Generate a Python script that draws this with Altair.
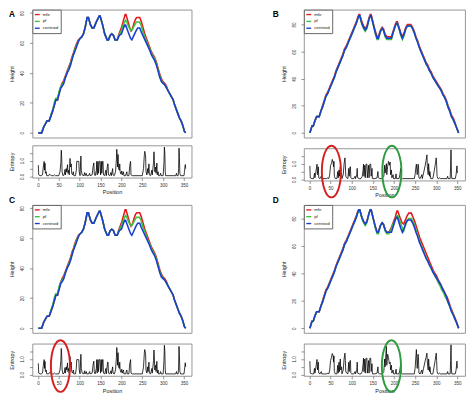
import altair as alt
import pandas as pd

FONT = "Liberation Sans"
RED, GREEN, BLUE = "#E41A1C", "#3CC43C", "#1A3FD0"
SERIES = ["mfe", "pf", "centroid"]

# ---------------- Height profiles (position, height) ----------------
# Panels A and C
A_centroid_pos = [1, 9, 14, 18, 22, 27, 31, 36, 40, 43, 47, 51, 55, 58, 62, 66, 70, 74, 78, 82, 85, 88, 92, 97, 101, 105, 109, 113, 118, 121, 126, 130, 134, 140, 147, 149, 155, 160, 166, 169, 173, 177, 181, 185, 190, 195, 200, 205, 208, 210, 214, 218, 222, 225, 230, 235, 239, 244, 248, 253, 258, 263, 268, 272, 276, 280, 284, 288, 292, 296, 300, 304, 308, 312, 316, 320, 324, 327, 331, 335, 339, 343, 347, 351, 354]
A_centroid_h = [0, 0, 4, 6, 8, 8, 11, 15, 19, 22, 22, 26, 30, 31, 33, 37, 40, 42, 45, 49, 52, 54, 57, 61, 63, 64, 66, 70, 77, 77, 72, 70, 70, 74, 78, 78, 72, 66, 62, 62, 65, 66, 65, 62, 62, 65, 66, 70, 72, 72, 69, 66, 63, 62, 65, 68, 70, 70, 67, 64, 61, 58, 55, 52, 50, 48, 45, 41, 37, 34, 33, 32, 30, 28, 26, 24, 22, 19, 16, 13, 10, 8, 5, 1, 0]

A_mfe_pos = [1, 9, 14, 18, 22, 27, 31, 36, 40, 43, 47, 51, 55, 58, 62, 66, 70, 74, 78, 82, 85, 88, 92, 97, 101, 105, 109, 113, 118, 121, 126, 130, 134, 140, 147, 149, 155, 160, 166, 169, 173, 177, 181, 185, 190, 193, 197, 201, 205, 209, 211, 215, 219, 223, 226, 230, 234, 237, 244, 248, 252, 256, 260, 264, 268, 272, 276, 280, 284, 288, 292, 296, 300, 304, 308, 312, 316, 320, 324, 327, 331, 335, 339, 343, 347, 351, 354]
A_mfe_h = [0, 0, 4, 6, 8, 8, 11, 15, 19, 22, 22, 27, 31, 33, 35, 38, 41, 44, 47, 51, 53, 56, 59, 62, 63, 64, 66, 70, 77, 77, 72, 70, 70, 74, 78, 78, 72, 66, 62, 62, 65, 66, 65, 62, 62, 65, 68, 71, 75, 79, 79, 75, 71, 68, 69, 73, 76, 77, 77, 74, 70, 66, 63, 60, 57, 54, 52, 50, 47, 43, 39, 36, 34, 33, 31, 28, 26, 24, 22, 19, 16, 13, 10, 8, 5, 1, 0]

A_pf_pos = [1, 9, 14, 18, 22, 27, 31, 36, 40, 43, 47, 51, 55, 58, 62, 66, 70, 74, 78, 82, 85, 88, 92, 97, 101, 105, 109, 113, 118, 121, 126, 130, 134, 140, 147, 149, 155, 160, 166, 169, 173, 177, 181, 185, 190, 194, 198, 202, 206, 210, 213, 217, 221, 224, 228, 232, 236, 243, 247, 251, 255, 259, 263, 268, 272, 276, 280, 284, 288, 292, 296, 300, 304, 308, 312, 316, 320, 324, 327, 331, 335, 339, 343, 347, 351, 354]
A_pf_h = [0, 0, 4, 6, 8, 8, 12, 16, 21, 23, 23, 28, 31, 32, 34, 37, 40, 43, 46, 50, 52, 55, 58, 61, 63, 64, 66, 70, 77, 77, 72, 70, 70, 74, 78, 78, 72, 66, 62, 62, 65, 66, 65, 62, 62, 65, 67, 70, 73, 75, 74, 71, 69, 68, 70, 72, 74, 74, 72, 68, 65, 62, 59, 56, 53, 51, 49, 46, 42, 38, 35, 33, 32, 30, 28, 26, 24, 22, 19, 16, 13, 10, 8, 5, 1, 0]

# Panels B and D
B_centroid_pos = [1, 3, 6, 9, 13, 17, 23, 27, 31, 35, 39, 43, 47, 51, 55, 59, 63, 67, 71, 75, 79, 83, 87, 91, 95, 99, 103, 107, 111, 115, 117, 119, 124, 128, 132, 136, 141, 144, 146, 151, 156, 160, 163, 168, 172, 175, 179, 183, 194, 199, 203, 206, 208, 212, 216, 220, 224, 228, 232, 240, 244, 248, 252, 256, 260, 264, 268, 272, 276, 280, 284, 288, 292, 296, 300, 304, 308, 312, 316, 320, 324, 328, 332, 336, 340, 344, 348, 353]
B_centroid_h = [0, 2, 5, 5, 9, 12, 12, 16, 19, 23, 27, 29, 32, 35, 38, 41, 45, 48, 51, 54, 57, 61, 63, 66, 69, 72, 75, 78, 81, 85, 86.5, 86.5, 81, 78, 76, 78, 84, 86.5, 86.5, 80, 74, 70, 70, 75, 77, 76, 72, 70, 70, 75, 79, 81, 81, 77, 73, 70, 73, 77, 79, 79, 77, 74, 70, 67, 63, 60, 57, 54, 51, 49, 46, 44, 41, 39, 37, 35, 33, 31, 28, 26, 23, 19, 16, 12, 10, 7, 4, 0]

B_mfe_pos = B_centroid_pos
B_mfe_h = [0, 2, 5, 5, 9, 12, 12, 16, 20, 24, 28, 30, 33, 36, 39, 42, 46, 49, 52, 55, 58, 62, 64, 67, 70, 73, 76, 79, 82, 86, 87.5, 87.5, 82, 79, 77, 79, 85, 87.5, 87.5, 81, 75, 71, 71, 76, 78, 77, 73, 71, 71, 76, 80, 82, 82, 78, 74, 71, 74, 78, 80, 80, 78, 75, 71, 68, 64, 61, 58, 55, 52, 50, 47, 45, 42, 40, 38, 36, 34, 32, 29, 27, 24, 20, 17, 13, 11, 8, 4, 0]

B_pf_pos = B_centroid_pos
B_pf_h = [0, 2, 5, 5, 9, 12, 12, 16, 19, 23, 27, 29, 32, 35, 38, 41, 45, 48, 51, 54, 57, 61, 63, 66, 69, 72, 75, 78, 81, 85, 86.5, 86.5, 80, 77, 75, 77, 84, 86.5, 86.5, 80, 73, 69, 69, 75, 77, 76, 71, 69, 69, 75, 79, 81, 81, 77, 72, 69, 72, 77, 79, 79, 77, 74, 70, 67, 63, 60, 57, 54, 51, 49, 46, 44, 41, 39, 37, 35, 33, 31, 28, 26, 23, 19, 16, 12, 10, 7, 4, 0]

D_mfe_pos = [1, 3, 6, 9, 13, 17, 23, 27, 31, 35, 39, 43, 47, 51, 55, 59, 63, 67, 71, 75, 79, 83, 87, 91, 95, 99, 103, 107, 111, 115, 117, 119, 124, 128, 132, 136, 141, 144, 146, 151, 156, 160, 163, 168, 172, 175, 179, 183, 188, 193, 198, 203, 207, 209, 214, 219, 223, 227, 231, 235, 241, 245, 249, 253, 257, 261, 265, 269, 273, 277, 281, 285, 289, 293, 297, 301, 305, 309, 313, 317, 321, 325, 329, 333, 337, 341, 345, 349, 353]
D_mfe_h = [0, 2, 5, 5, 9, 12, 12, 16, 20, 24, 28, 30, 33, 36, 39, 42, 46, 49, 52, 55, 58, 62, 64, 67, 70, 73, 76, 79, 82, 86, 86.5, 86.5, 81, 78, 76, 78, 84, 86.5, 86.5, 80, 74, 70, 70, 75, 77, 76, 72, 70, 70, 73, 77, 81, 85.5, 85.5, 81, 77, 76, 79, 82, 84, 84, 81, 78, 74, 70, 66, 63, 60, 57, 54, 51, 48, 45, 42, 40, 38, 35, 33, 30, 28, 25, 23, 20, 16, 13, 10, 7, 4, 0]

D_pf_pos = D_mfe_pos
D_pf_h = [0, 2, 5, 5, 9, 12, 12, 16, 19, 23, 27, 29, 32, 35, 38, 41, 45, 48, 51, 54, 57, 61, 63, 66, 69, 72, 75, 78, 81, 85, 86.5, 86.5, 80, 77, 75, 77, 84, 86.5, 86.5, 80, 73, 69, 69, 75, 77, 76, 71, 69, 69, 72, 76, 79, 82, 82, 78, 74, 71, 75, 78, 80, 80, 78, 75, 71, 67, 63, 60, 57, 54, 51, 48, 46, 43, 41, 38, 36, 33, 31, 28, 26, 23, 21, 18, 15, 12, 9, 6, 3, 0]

# ---------------- Entropy profiles (position, entropy) ----------------
A_ent_pos = [1, 2, 5, 8, 11, 13, 15, 16, 17, 18, 20, 21, 26, 28, 30, 33, 38, 40, 42, 50, 53, 55, 56, 57, 58, 60, 63, 65, 66, 68, 69, 71, 72, 74, 75, 77, 78, 80, 81, 83, 85, 86, 90, 92, 93, 98, 99, 101, 103, 104, 106, 110, 112, 113, 116, 117, 121, 124, 125, 130, 132, 134, 135, 137, 140, 141, 142, 144, 145, 147, 149, 150, 152, 153, 155, 156, 157, 160, 163, 164, 167, 168, 169, 172, 175, 176, 179, 180, 183, 186, 188, 189, 190, 191, 192, 193, 195, 196, 197, 199, 201, 202, 205, 206, 210, 213, 214, 218, 220, 222, 223, 226, 250, 253, 255, 256, 258, 259, 261, 263, 264, 266, 267, 270, 273, 274, 277, 278, 279, 280, 282, 283, 285, 286, 288, 289, 292, 294, 295, 300, 302, 303, 304, 305, 306, 330, 332, 333, 336, 337, 338, 339, 340, 342, 350, 351, 353, 354]
A_ent_v = [0.72, 0.1, 0.05, 0.05, 0.1, 0.6, 0.96, 0.4, 0.85, 0.2, 0.3, 0.05, 0.05, 0.15, 0.1, 0.05, 0.05, 0.1, 0.05, 0.05, 0.3, 0.9, 1.67, 1.2, 0.3, 0.05, 0.1, 0.45, 0.1, 0.5, 0.3, 0.75, 0.2, 0.4, 0.1, 1.15, 0.6, 0.8, 0.2, 0.1, 0.3, 0.05, 0.05, 0.4, 0.96, 0.96, 0.3, 0.05, 1.3, 0.4, 0.1, 0.05, 0.25, 0.05, 0.2, 0.05, 0.05, 0.2, 0.05, 0.1, 0.6, 0.86, 0.2, 0.05, 0.4, 0.96, 0.1, 0.96, 0.2, 0.96, 0.96, 0.1, 0.96, 0.2, 0.96, 0.96, 0.1, 0.05, 0.4, 0.05, 0.8, 0.8, 0.1, 0.05, 0.25, 0.05, 0.5, 0.1, 0.05, 0.3, 1.1, 1.73, 1.2, 0.6, 1.4, 0.5, 0.4, 0.8, 0.3, 0.15, 0.35, 0.1, 0.3, 0.05, 0.05, 0.3, 0.05, 0.05, 0.7, 0.96, 0.1, 0.05, 0.05, 0.5, 1.4, 1.6, 1.3, 0.3, 0.1, 0.5, 0.2, 0.8, 0.1, 0.05, 0.4, 0.1, 0.9, 1.57, 1.0, 0.3, 0.6, 0.2, 0.85, 0.1, 0.3, 0.05, 0.05, 0.2, 0.05, 0.05, 0.9, 1.87, 1.5, 0.3, 0.05, 0.05, 0.2, 0.05, 0.05, 0.5, 1.8, 1.2, 0.2, 0.05, 0.05, 0.3, 0.76, 0.5]

B_ent_pos = [1, 2, 6, 10, 12, 13, 16, 18, 19, 21, 22, 25, 28, 29, 35, 40, 44, 46, 48, 50, 52, 54, 56, 57, 58, 59, 61, 65, 67, 68, 70, 71, 73, 74, 76, 77, 80, 82, 84, 85, 86, 88, 91, 93, 94, 96, 97, 98, 100, 105, 108, 109, 112, 113, 114, 118, 122, 125, 127, 128, 129, 131, 132, 134, 136, 137, 140, 141, 143, 145, 146, 148, 149, 155, 160, 162, 163, 166, 172, 176, 178, 179, 182, 183, 185, 187, 188, 189, 191, 192, 194, 195, 198, 199, 203, 205, 206, 212, 214, 216, 217, 220, 248, 250, 252, 253, 255, 257, 258, 259, 262, 266, 267, 270, 274, 276, 278, 279, 281, 282, 284, 285, 287, 292, 295, 298, 300, 301, 302, 304, 306, 308, 310, 325, 327, 328, 333, 334, 335, 336, 337, 345, 347, 349, 350]
B_ent_v = [0.86, 0.1, 0.05, 0.05, 0.4, 0.1, 0.6, 0.97, 0.3, 0.8, 0.1, 0.05, 0.2, 0.05, 0.05, 0.05, 0.1, 0.05, 0.3, 0.9, 1.0, 1.27, 1.1, 0.8, 1.15, 0.2, 0.05, 0.05, 0.5, 0.1, 0.6, 0.2, 0.8, 0.3, 0.4, 0.05, 0.3, 1.0, 1.37, 0.9, 0.2, 0.1, 0.05, 0.7, 0.2, 0.8, 0.8, 0.1, 0.05, 0.05, 0.2, 0.05, 0.3, 0.7, 0.1, 0.05, 0.05, 0.2, 0.6, 0.97, 0.2, 0.9, 0.1, 0.97, 0.97, 0.1, 0.9, 0.1, 0.97, 0.97, 0.2, 0.7, 0.05, 0.05, 0.1, 0.5, 0.1, 0.05, 0.05, 0.2, 0.9, 0.4, 1.0, 0.3, 0.8, 1.15, 1.1, 0.9, 1.1, 0.3, 0.6, 0.1, 0.3, 0.05, 0.05, 0.35, 0.05, 0.05, 0.3, 0.7, 0.1, 0.05, 0.05, 0.3, 0.8, 0.97, 0.3, 0.97, 0.9, 0.1, 0.05, 0.3, 0.05, 0.4, 0.9, 1.2, 1.56, 0.8, 0.3, 1.0, 0.2, 0.5, 0.05, 0.05, 0.5, 1.0, 1.37, 0.9, 0.2, 0.05, 0.05, 0.1, 0.05, 0.05, 0.2, 0.05, 0.05, 0.9, 1.88, 0.3, 0.05, 0.05, 0.3, 0.86, 0.4]

D_ent_pos = B_ent_pos
D_ent_v = [0.86, 0.1, 0.05, 0.05, 0.4, 0.1, 0.6, 0.97, 0.3, 0.8, 0.1, 0.05, 0.2, 0.05, 0.05, 0.05, 0.1, 0.05, 0.3, 0.9, 1.1, 1.35, 1.2, 0.8, 1.2, 0.2, 0.05, 0.05, 0.6, 0.1, 0.8, 0.2, 1.0, 0.3, 0.5, 0.05, 0.3, 1.0, 1.37, 0.9, 0.2, 0.1, 0.05, 0.8, 0.2, 0.9, 0.9, 0.1, 0.05, 0.05, 0.2, 0.05, 0.3, 0.8, 0.1, 0.05, 0.05, 0.2, 0.7, 1.05, 0.2, 1.0, 0.1, 1.05, 1.05, 0.1, 0.9, 0.1, 1.05, 1.05, 0.2, 0.7, 0.05, 0.05, 0.1, 0.5, 0.1, 0.05, 0.05, 0.2, 1.0, 0.5, 1.8, 0.6, 1.3, 1.1, 0.9, 0.7, 0.8, 0.3, 0.6, 0.1, 0.3, 0.05, 0.05, 0.35, 0.05, 0.05, 0.3, 0.7, 0.1, 0.05, 0.05, 0.4, 1.2, 1.6, 0.4, 1.3, 1.1, 0.1, 0.05, 0.3, 0.05, 0.4, 0.9, 1.1, 1.37, 0.8, 0.3, 1.0, 0.2, 0.5, 0.05, 0.05, 0.5, 1.0, 1.37, 0.9, 0.2, 0.05, 0.05, 0.1, 0.05, 0.05, 0.2, 0.05, 0.05, 0.9, 1.9, 0.3, 0.05, 0.05, 0.3, 0.86, 0.4]

# highlighted regions (position, entropy, colour)
B_marks_pos = [52, 195]
B_marks_v = [0.5, 0.5]
B_marks_col = ["#D42020", "#2E9B40"]
C_marks_pos = [54]
C_marks_v = [0.55]
C_marks_col = ["#D42020"]
D_marks_pos = [194]
D_marks_v = [0.55]
D_marks_col = ["#2E9B40"]

X_TICKS = [0, 50, 100, 150, 200, 250, 300, 350]
H_TICKS = [0, 20, 40, 60, 80]
E_TICKS = [0, 0.5, 1, 1.5]

H_TOP, H_BOT = 131, 33
ELLIPSE = "M0,-1 A0.37,1 0 1,1 0,1 A0.37,1 0 1,1 0,-1 Z"


def padded(lo, hi):
    r = hi - lo
    return [lo - 0.04 * r, hi + 0.04 * r]


X_DOM = padded(1, 354)
E_DOM = padded(0, 1.9)

axis_common = dict(domain=False, grid=False, tickColor="#666", tickSize=3, tickWidth=0.7,
                   labelFont=FONT, labelFontSize=4.6, labelColor="#333",
                   titleFont=FONT, titleFontSize=5.6, titleFontWeight="normal", titleColor="#222")
y_axis_extra = dict(labelAngle=270, labelAlign="center", labelBaseline="bottom",
                    labelPadding=5, titlePadding=5)


def height_chart(mfe, pf, cen, width, letter, lx, ly):
    rows = []
    for name, (ps, hs) in zip(SERIES, [mfe, pf, cen]):
        for p, h in zip(ps, hs):
            rows.append({"pos": p, "h": h, "series": name})
    df = pd.DataFrame(rows)
    hmax = df["h"].max()
    ydom = padded(0, hmax)
    base = alt.Chart(df).encode(
        x=alt.X("pos:Q", scale=alt.Scale(domain=X_DOM, nice=False, zero=False), axis=None),
        y=alt.Y("h:Q", scale=alt.Scale(domain=ydom, nice=False, zero=False),
                axis=alt.Axis(values=H_TICKS, title="Height", **axis_common, **y_axis_extra)),
        color=alt.Color("series:N",
                        scale=alt.Scale(domain=SERIES, range=[RED, GREEN, BLUE]),
                        legend=alt.Legend(orient="top-left", offset=0, title=None,
                                          symbolType="stroke", symbolSize=25,
                                          symbolStrokeWidth=1.4, labelFont=FONT,
                                          labelFontSize=4.5, labelOffset=2,
                                          rowPadding=0, padding=1.5, strokeColor="#666",
                                          fillColor="white", labelColor="#222",
                                          labelLimit=0)),
    )
    layers = [base.transform_filter(alt.datum.series == s).mark_line(strokeWidth=1.6)
              for s in SERIES]
    lab = alt.Chart(pd.DataFrame({"t": [letter]})).mark_text(
        align="left", baseline="top", fontSize=8.5, fontWeight="bold", font=FONT, color="black"
    ).encode(text="t:N", x=alt.value(lx), y=alt.value(ly))
    return alt.layer(*layers, lab).properties(width=width, height=H_TOP)


def entropy_chart(ent, width, marks=None):
    ps, vs = ent
    df = pd.DataFrame({"pos": ps, "v": vs})
    x_enc = alt.X("pos:Q", scale=alt.Scale(domain=X_DOM, nice=False, zero=False),
                  axis=alt.Axis(values=X_TICKS, title="Position", labelPadding=2,
                                titlePadding=3, **axis_common))
    y_enc = alt.Y("v:Q", scale=alt.Scale(domain=E_DOM, nice=False, zero=False),
                  axis=alt.Axis(values=E_TICKS, title="Entropy",
                                labelExpr="datum.value == 0 || datum.value == 1 ? format(datum.value, '.1f') : ''",
                                **axis_common, **y_axis_extra))
    line = alt.Chart(df).mark_line(color="black", strokeWidth=0.8).encode(x=x_enc, y=y_enc)
    layers = [line]
    if marks is not None:
        mp, mv, mc = marks
        mdf = pd.DataFrame({"pos": mp, "v": mv, "c": mc})
        layers.append(alt.Chart(mdf).mark_point(shape=ELLIPSE, size=2800, filled=False,
                                                strokeWidth=2, opacity=1).encode(
            x=x_enc, y=y_enc, color=alt.Color("c:N", scale=None)))
    return alt.layer(*layers).properties(width=width, height=H_BOT)


def cell(h, e, gap):
    return alt.vconcat(h, e, spacing=gap).resolve_scale(color="independent")


A = cell(height_chart((A_mfe_pos, A_mfe_h), (A_pf_pos, A_pf_h), (A_centroid_pos, A_centroid_h), 163, "A", -24, 0),
         entropy_chart((A_ent_pos, A_ent_v), 163), 6)
B = cell(height_chart((B_mfe_pos, B_mfe_h), (B_pf_pos, B_pf_h), (B_centroid_pos, B_centroid_h), 165, "B", -32, 0),
         entropy_chart((B_ent_pos, B_ent_v), 165, (B_marks_pos, B_marks_v, B_marks_col)), 2)
C = cell(height_chart((A_mfe_pos, A_mfe_h), (A_pf_pos, A_pf_h), (A_centroid_pos, A_centroid_h), 163, "C", -24, -9),
         entropy_chart((A_ent_pos, A_ent_v), 163, (C_marks_pos, C_marks_v, C_marks_col)), 2)
D = cell(height_chart((D_mfe_pos, D_mfe_h), (D_pf_pos, D_pf_h), (B_centroid_pos, B_centroid_h), 165, "D", -32, -9),
         entropy_chart((D_ent_pos, D_ent_v), 165, (D_marks_pos, D_marks_v, D_marks_col)), 2)

row1 = alt.hconcat(A, B, spacing=81).resolve_scale(color="independent")
row2 = alt.hconcat(C, D, spacing=81).resolve_scale(color="independent")

chart = alt.vconcat(row1, row2, spacing=-7).resolve_scale(
    color="independent", x="independent", y="independent"
).properties(
    padding={"left": 0, "top": -4, "right": 0, "bottom": 0}
).configure(background="white").configure_view(stroke="#888", strokeWidth=0.9)

chart.save("out.html", embed_options={"renderer": "svg", "actions": False})
